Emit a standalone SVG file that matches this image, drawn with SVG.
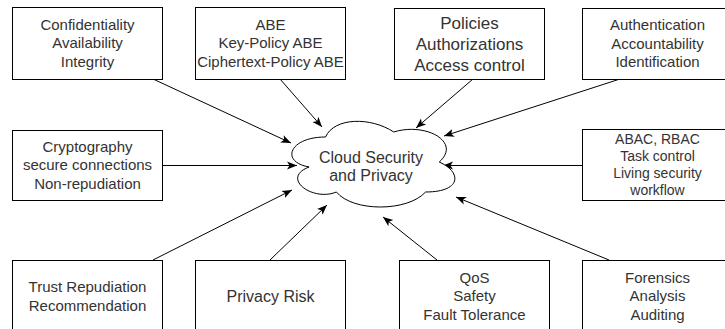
<svg xmlns="http://www.w3.org/2000/svg" width="725" height="329" viewBox="0 0 725 329">
<defs>
<marker id="arr" markerUnits="userSpaceOnUse" markerWidth="10" markerHeight="10" refX="10" refY="5" orient="auto">
<path d="M0,1 L10,5 L0,9 L2.5,5 Z" fill="#000"/>
</marker>
<style>
.box{fill:#fff;stroke:#000;stroke-width:1}
.t{font-family:"Liberation Sans",Arial,sans-serif;font-size:15px;fill:#333;text-anchor:middle}
.e{fill:none;stroke:#000;stroke-width:1;marker-end:url(#arr)}
</style>
</defs>
<rect width="725" height="329" fill="#fff"/>
<g id="connectors">
<line class="e" x1="153" y1="79" x2="291" y2="143"/>
<line class="e" x1="280" y1="79" x2="322" y2="127"/>
<line class="e" x1="473" y1="79" x2="416" y2="128"/>
<line class="e" x1="620" y1="79" x2="444" y2="136"/>
<line class="e" x1="162" y1="165.5" x2="297" y2="165.5"/>
<line class="e" x1="582" y1="165.5" x2="443" y2="165.5"/>
<line class="e" x1="153" y1="260" x2="292" y2="190"/>
<line class="e" x1="270" y1="260" x2="327" y2="205"/>
<line class="e" x1="437" y1="260" x2="383" y2="217"/>
<line class="e" x1="609" y1="260" x2="456" y2="197"/>
</g>
<g id="cloud">
<path d="M325.5,137 C289.1,137 280,162 309.1,167 C280,178 312.8,202 336.4,192 C352.8,212 407.4,212 425.6,192 C462,192 462,172 439.25,162 C462,142 425.6,122 393.75,132 C371,117 334.6,117 325.5,137 Z" fill="#fff" stroke="#000" stroke-width="1"/>
<text class="t" x="371" y="162.5" style="font-size:16px">Cloud Security</text>
<text class="t" x="371" y="180.5" style="font-size:16px">and Privacy</text>
</g>
<g id="n1">
<rect class="box" x="12.5" y="7.5" width="150" height="72"/>
<text class="t" x="87.5" y="29.8">Confidentiality</text>
<text class="t" x="87.5" y="48.3">Availability</text>
<text class="t" x="87.5" y="66.8">Integrity</text>
</g>
<g id="n2">
<rect class="box" x="195.5" y="7.5" width="150" height="72"/>
<text class="t" x="270.5" y="29.8">ABE</text>
<text class="t" x="270.5" y="48.3">Key-Policy ABE</text>
<text class="t" x="270.5" y="66.8">Ciphertext-Policy ABE</text>
</g>
<g id="n3">
<rect class="box" x="394.5" y="8.5" width="150" height="71"/>
<text class="t" x="469.5" y="28.5" style="font-size:17px">Policies</text>
<text class="t" x="469.5" y="49.5" style="font-size:17px">Authorizations</text>
<text class="t" x="469.5" y="70.5" style="font-size:17px">Access control</text>
</g>
<g id="n4">
<rect class="box" x="582.5" y="8.5" width="150" height="71"/>
<text class="t" x="657.5" y="30.3">Authentication</text>
<text class="t" x="657.5" y="48.8">Accountability</text>
<text class="t" x="657.5" y="67.3">Identification</text>
</g>
<g id="n5">
<rect class="box" x="12.5" y="130.5" width="150" height="70"/>
<text class="t" x="87.5" y="151.8">Cryptography</text>
<text class="t" x="87.5" y="170.3">secure connections</text>
<text class="t" x="87.5" y="188.8">Non-repudiation</text>
</g>
<g id="n6">
<rect class="box" x="582.5" y="129.5" width="150" height="71"/>
<text class="t" x="657.5" y="144" style="font-size:14px">ABAC, RBAC</text>
<text class="t" x="657.5" y="161" style="font-size:14px">Task control</text>
<text class="t" x="657.5" y="178" style="font-size:14px">Living security</text>
<text class="t" x="657.5" y="195" style="font-size:14px">workflow</text>
</g>
<g id="n7">
<rect class="box" x="12.5" y="260.5" width="150" height="72"/>
<text class="t" x="87.5" y="291.8">Trust Repudiation</text>
<text class="t" x="87.5" y="310.8">Recommendation</text>
</g>
<g id="n8">
<rect class="box" x="195.5" y="260.5" width="150" height="72"/>
<text class="t" x="270.5" y="301.7" style="font-size:16px">Privacy Risk</text>
</g>
<g id="n9">
<rect class="box" x="399.5" y="260.5" width="150" height="72"/>
<text class="t" x="474.5" y="282.8">QoS</text>
<text class="t" x="474.5" y="301.3">Safety</text>
<text class="t" x="474.5" y="319.8">Fault Tolerance</text>
</g>
<g id="n10">
<rect class="box" x="582.5" y="260.5" width="150" height="72"/>
<text class="t" x="657.5" y="282.8">Forensics</text>
<text class="t" x="657.5" y="301.3">Analysis</text>
<text class="t" x="657.5" y="319.8">Auditing</text>
</g>
</svg>
